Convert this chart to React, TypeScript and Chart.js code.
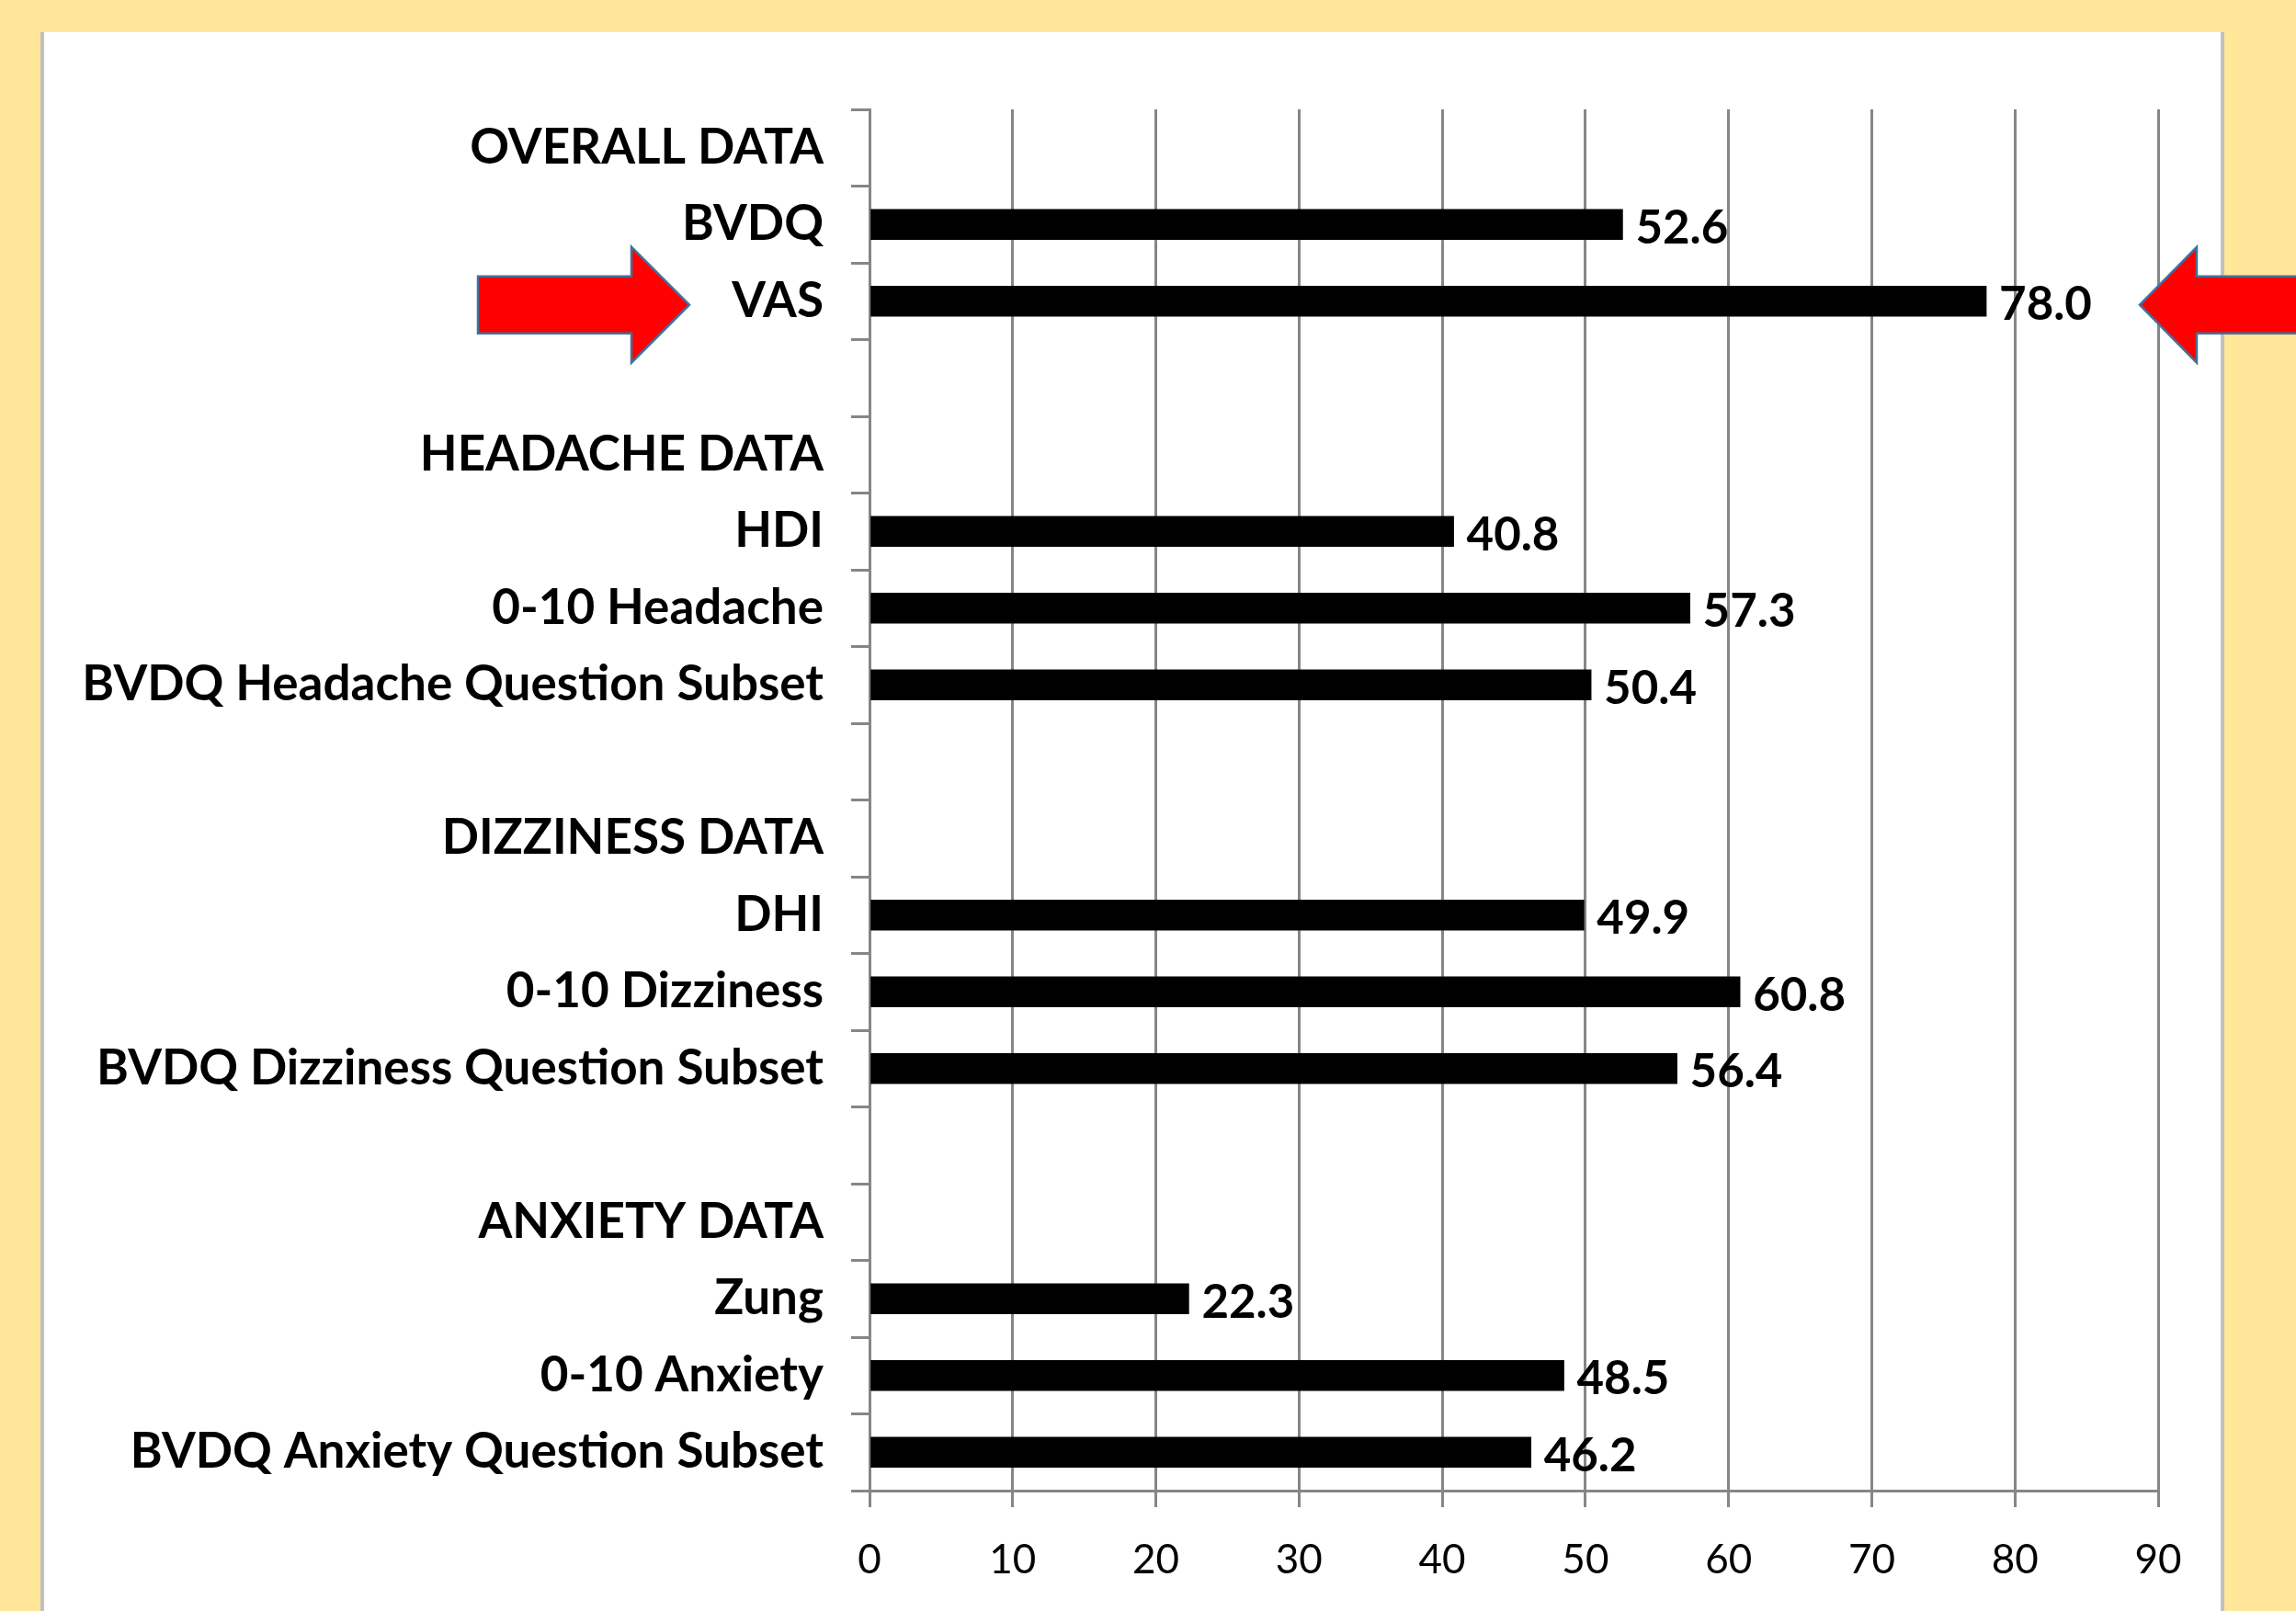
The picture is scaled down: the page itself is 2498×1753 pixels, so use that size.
import React, { useEffect, useRef } from 'react';
import { Chart, registerables } from 'chart.js';

Chart.register(...registerables);

const categories: string[] = [
  'OVERALL DATA',
  'BVDQ',
  'VAS',
  '',
  'HEADACHE DATA',
  'HDI',
  '0-10 Headache',
  'BVDQ Headache Question Subset',
  '',
  'DIZZINESS DATA',
  'DHI',
  '0-10 Dizziness',
  'BVDQ Dizziness Question Subset',
  '',
  'ANXIETY DATA',
  'Zung',
  '0-10 Anxiety',
  'BVDQ Anxiety Question Subset',
];

const scores: (number | null)[] = [
  null, 52.6, 78.0, null,
  null, 40.8, 57.3, 50.4, null,
  null, 49.9, 60.8, 56.4, null,
  null, 22.3, 48.5, 46.2,
];

const xTickValues: number[] = [0, 10, 20, 30, 40, 50, 60, 70, 80, 90];
const highlightedCategory = 'VAS';

const W = 2498;
const H = 1753;
const FONT = 'Lato, "Open Sans", "Liberation Sans", sans-serif';

const backgroundPlugin = {
  id: 'panelBackground',
  beforeDraw(chart: any) {
    const ctx = chart.ctx;
    ctx.save();
    ctx.fillStyle = '#FFE699';
    ctx.fillRect(0, 0, W, H);
    ctx.fillStyle = '#C0C0C0';
    ctx.fillRect(44, 35, 4, H - 35);
    ctx.fillRect(2416, 35, 4, H - 35);
    ctx.fillStyle = '#FFFFFF';
    ctx.fillRect(48, 35, 2416 - 48, H - 35);
    ctx.restore();
  },
};

const valueLabelPlugin = {
  id: 'valueLabels',
  afterDatasetsDraw(chart: any) {
    const ctx = chart.ctx;
    const meta = chart.getDatasetMeta(0);
    ctx.save();
    ctx.fillStyle = '#000';
    ctx.font = `bold 51px ${FONT}`;
    ctx.textBaseline = 'middle';
    ctx.textAlign = 'left';
    meta.data.forEach((bar: any, i: number) => {
      const v = scores[i];
      if (v === null || v === undefined) return;
      ctx.fillText(v.toFixed(1), bar.x + 14, bar.y + 4);
    });
    ctx.restore();
  },
};

function drawArrow(ctx: CanvasRenderingContext2D, tipX: number, baseX: number, tailX: number, cy: number) {
  const shaftHalf = 31;
  const headHalf = 63;
  ctx.beginPath();
  ctx.moveTo(tailX, cy - shaftHalf);
  ctx.lineTo(baseX, cy - shaftHalf);
  ctx.lineTo(baseX, cy - headHalf);
  ctx.lineTo(tipX, cy);
  ctx.lineTo(baseX, cy + headHalf);
  ctx.lineTo(baseX, cy + shaftHalf);
  ctx.lineTo(tailX, cy + shaftHalf);
  ctx.closePath();
  ctx.fillStyle = '#FF0000';
  ctx.fill();
  ctx.strokeStyle = '#41719C';
  ctx.lineWidth = 2.5;
  ctx.stroke();
}

const arrowPlugin = {
  id: 'highlightArrows',
  afterDraw(chart: any) {
    const ctx = chart.ctx;
    const idx = categories.indexOf(highlightedCategory);
    const cy = chart.scales.y.getPixelForValue(idx) + 4;
    ctx.save();
    drawArrow(ctx, 750, 687, 520, cy);
    drawArrow(ctx, 2328, 2390, 2520, cy);
    ctx.restore();
  },
};

export default function App() {
  const canvasRef = useRef<HTMLCanvasElement | null>(null);

  useEffect(() => {
    document.body.style.margin = '0';
    document.body.style.overflow = 'hidden';
    const canvas = canvasRef.current;
    if (!canvas) return;
    const chart = new Chart(canvas, {
      type: 'bar',
      data: {
        labels: categories,
        datasets: [
          {
            data: scores as any,
            backgroundColor: '#000000',
            borderWidth: 0,
            barThickness: 33,
          },
        ],
      },
      options: {
        indexAxis: 'y',
        responsive: false,
        animation: false,
        devicePixelRatio: 1,
        layout: { padding: { left: 0, top: 119, right: 150, bottom: 0 } },
        plugins: {
          legend: { display: false },
          tooltip: { enabled: false },
          title: { display: false },
        },
        scales: {
          x: {
            type: 'linear',
            position: 'bottom',
            min: 0,
            max: 90,
            afterBuildTicks: (scale: any) => {
              scale.ticks = xTickValues.map((v) => ({ value: v }));
            },
            afterFit: (scale: any) => {
              scale.height = 131;
            },
            grid: {
              color: '#868686',
              lineWidth: 3,
              tickLength: 18,
              drawTicks: true,
            },
            border: { color: '#868686', width: 3 },
            ticks: {
              color: '#000',
              font: { family: FONT, size: 44 },
              padding: 31,
            },
          },
          y: {
            type: 'category',
            afterFit: (scale: any) => {
              scale.width = 946;
            },
            grid: {
              offset: true,
              drawOnChartArea: false,
              color: '#868686',
              lineWidth: 3,
              tickLength: 20,
            },
            border: { color: '#868686', width: 3 },
            ticks: {
              color: '#000',
              font: { family: FONT, size: 53, weight: 'bold' },
              padding: 30,
              autoSkip: false,
            },
          },
        },
      },
      plugins: [backgroundPlugin, valueLabelPlugin, arrowPlugin],
    });
    return () => chart.destroy();
  }, []);

  return (
    <div style={{ position: 'absolute', left: 0, top: 0, width: W, height: H }}>
      <canvas ref={canvasRef} width={W} height={H} style={{ width: W, height: H, display: 'block' }} />
    </div>
  );
}
